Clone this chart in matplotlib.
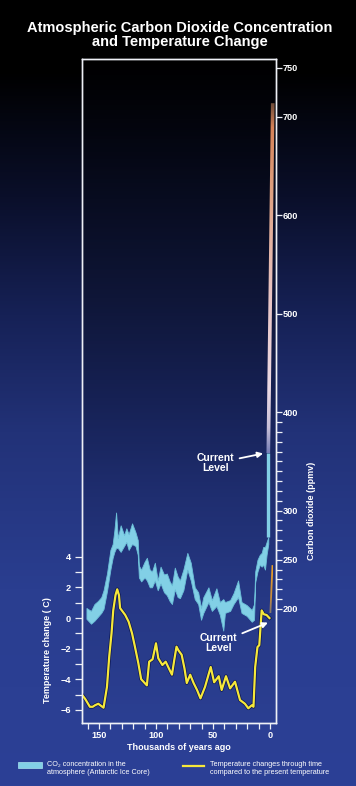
import numpy as np
import matplotlib
matplotlib.use('Agg')
import matplotlib.pyplot as plt
from matplotlib.patches import Rectangle, Polygon
from matplotlib.lines import Line2D

plt.rcParams['font.family'] = ['Liberation Sans', 'DejaVu Sans']

# CO2 band (Vostok ice core), thousands of years ago vs ppmv
co2_kyr = [161, 157, 154, 151, 148, 146, 143, 140, 138, 136.5, 135, 133.5, 131, 128, 126,
           124, 121, 118, 116, 115, 113, 110, 108, 105.5, 103.5, 101, 98.5, 96, 93, 90.5,
           88, 86, 83.5, 81, 79, 76, 72.5, 69.5, 66, 63, 60.5, 58.5, 54, 51, 47, 44, 41,
           39.5, 35, 32, 28, 25, 20.5, 16, 14, 13, 11, 9, 7.3, 6, 4.4, 3, 1.5]
co2_upper = [201, 198, 205, 208, 212, 219, 236, 260, 266, 280, 298, 272, 285, 275, 282,
             276, 287, 278, 270, 244, 240, 248, 252, 240, 238, 247, 229, 243, 235, 236,
             228, 224, 242, 233, 229, 240, 257, 247, 222, 217, 201, 212, 222, 209, 221, 207, 210,
             207, 209, 216, 229, 207, 204, 199, 205, 238, 250, 255, 257, 263, 263, 268, 273]
co2_lower = [190, 185, 188, 192, 196, 200, 218, 240, 252, 258, 262, 262, 258, 264, 268,
             260, 266, 264, 255, 232, 228, 232, 229, 222, 222, 229, 219, 226, 217, 214,
             208, 205, 220, 212, 211, 219, 240, 229, 210, 205, 189, 196, 207, 198, 203, 194, 178,
             196, 198, 205, 212, 196, 193, 187, 189, 227, 238, 245, 243, 245, 240, 255, 266]

# present-day rise and projection
co2_now_kyr = [1.5, 1.5]
co2_now = [273, 358]
co2_proj_kyr = [1.5, -2.4]
co2_proj = [358, 714]

# temperature change relative to present (deg C)
temp_kyr = [165, 162, 158, 155.5, 153.5, 150.6, 148, 146, 143, 141, 139, 137.5, 135.5, 134,
            132.5, 131.5, 127, 124, 121, 118.4, 115.5, 113, 110.5, 108, 106, 103, 100, 98,
            94.4, 91.5, 88, 86, 84, 82, 80.4, 77.5, 75, 73, 70, 67, 64, 61, 57, 52, 49, 45,
            42.4, 38.6, 35, 30.7, 26.3, 22, 19, 16, 14.5, 13, 11, 9.4, 7.3, 5.5, 3, 0.5]
temp = [-5.0, -5.3, -5.8, -5.8, -5.7, -5.6, -5.75, -5.86, -4.5, -2.5, -1.0, 0.5, 1.5, 1.88,
        1.5, 0.65, 0.2, -0.24, -1.0, -1.9, -2.95, -4.0, -4.2, -4.4, -2.85, -2.7, -1.65, -2.63,
        -3.07, -2.85, -3.4, -3.7, -2.75, -1.87, -2.1, -2.4, -3.3, -4.25, -3.7, -4.25, -4.7,
        -5.25, -4.5, -3.2, -4.2, -3.8, -4.7, -3.8, -4.6, -4.16, -5.36, -5.6, -5.9, -5.7,
        -5.8, -3.2, -1.9, -1.77, 0.5, 0.25, 0.2, 0.0]
temp_proj_kyr = [-0.3, -2.2]
temp_proj = [0.3, 3.46]

x_ticks = [150, 100, 50, 0]
temp_ticks = [-6, -4, -2, 0, 2, 4]
co2_ticks = [200, 250, 300, 400, 500, 600, 700, 750]

W, H = 356, 786
fig = plt.figure(figsize=(W / 100, H / 100), dpi=100)


def gradient(stops, n):
    ys = np.linspace(0, 1, n)
    pos = [s[0] for s in stops]
    rgb = np.array([s[1] for s in stops]) / 255.0
    img = np.stack([np.interp(ys, pos, rgb[:, i]) for i in range(3)], axis=-1)
    return img[:, None, :]


def gradient_bar(a, xs, ys, half_w, stops):
    # slanted thin bar filled with a vertical colour gradient
    poly = Polygon([(xs[0] + half_w, ys[0]), (xs[0] - half_w, ys[0]),
                    (xs[1] - half_w, ys[1]), (xs[1] + half_w, ys[1])],
                   closed=True, facecolor='none', edgecolor='none', transform=a.transData)
    a.add_patch(poly)
    im = a.imshow(gradient(stops, 200), origin='lower', aspect='auto', zorder=3,
                  extent=[max(xs) + half_w, min(xs) - half_w, ys[0], ys[1]],
                  interpolation='bilinear')
    im.set_clip_path(poly)


# figure background
bg = fig.add_axes([0, 0, 1, 1], zorder=-10)
bg.axis('off')
bg.imshow(gradient([(0, (0, 0, 0)), (0.09, (0, 0, 0)), (0.25, (10, 15, 42)), (0.4, (22, 33, 86)),
                    (0.55, (34, 50, 120)), (0.75, (42, 62, 144)), (1, (44, 64, 150))], H),
          aspect='auto', extent=[0, 1, 0, 1])

ax = fig.add_axes([82 / W, 1 - 723 / H, 194 / W, 664 / H])
ax.imshow(gradient([(0, (0, 0, 0)), (0.09, (3, 4, 12)), (0.21, (8, 12, 32)), (0.36, (15, 22, 56)),
                    (0.51, (22, 33, 84)), (0.66, (31, 46, 112)), (0.81, (38, 56, 132)),
                    (1, (43, 63, 146))], 300),
          aspect='auto', extent=[0, 1, 0, 1], transform=ax.transAxes, zorder=0)

ax2 = ax.twinx()

# CO2 band
ax2.fill_between(co2_kyr, co2_lower, co2_upper, color='#82d0e6', edgecolor='#6cbfd8',
                 lw=0.6, zorder=3)
ax2.plot(co2_now_kyr, co2_now, color='#82d0e6', lw=2.4, solid_capstyle='butt', zorder=3)

# projection with colour gradient
gradient_bar(ax2, co2_proj_kyr, co2_proj, 1.6,
             [(0, (120, 128, 184)), (0.07, (200, 192, 216)), (0.18, (236, 218, 228)),
              (0.45, (232, 196, 196)), (0.75, (222, 160, 128)), (0.93, (214, 130, 88)),
              (1, (110, 76, 58))])

# temperature
ax.plot(temp_kyr, temp, color='#0a1450', lw=2.6, zorder=4)
ax.plot(temp_kyr, temp, color='#f6e83a', lw=1.6, zorder=5)
gradient_bar(ax, temp_proj_kyr, temp_proj, 0.8,
             [(0, (130, 120, 110)), (0.35, (200, 140, 60)), (1, (236, 160, 40))])

# annotations
tkw = dict(color='white', fontsize=7.5, fontweight='bold', ha='center', va='center',
           linespacing=1.0)
akw = dict(arrowstyle='-|>', color='white', lw=1.3, mutation_scale=8, shrinkA=2, shrinkB=0)
ax2.annotate('Current\nLevel', xy=(6, 358), xytext=(48, 348), arrowprops=akw, zorder=6, **tkw)
ax.annotate('Current\nLevel', xy=(1.8, -0.3), xytext=(45.5, -1.65), arrowprops=akw, zorder=6, **tkw)

# axes, ticks
ax.set_xlim(164.9, -5.26)
ax.set_ylim(-6.86, 36.54)
ax2.set_ylim(84.1, 758.9)
ax.set_xticks(x_ticks)
ax.set_xticks(np.arange(0, 161, 10), minor=True)
ax.set_yticks(temp_ticks)
ax.set_yticks([-5, -3, -1, 1, 3], minor=True)
ax2.set_yticks(co2_ticks)
ax2.set_yticks(np.arange(200, 401, 10), minor=True)

lab_font = dict(fontsize=6.5, fontweight='bold', color='white')
for a in (ax, ax2):
    for s in a.spines.values():
        s.set_color('#eef0f6')
        s.set_linewidth(1.0)
    a.tick_params(which='both', colors='#eef0f6', width=0.9, length=4, direction='out')
ax.tick_params(axis='y', which='both', length=5, pad=3)
ax.tick_params(axis='x', which='both', pad=2)
ax2.tick_params(axis='y', which='both', length=4, pad=1)
for lbl in ax.get_xticklabels() + ax.get_yticklabels() + ax2.get_yticklabels():
    lbl.set_fontsize(6.6)
    lbl.set_fontweight('bold')
    lbl.set_color('white')

# texts
fig.text(0.505, 1 - 35 / H, 'Atmospheric Carbon Dioxide Concentration\nand Temperature Change',
         ha='center', va='center', color='white', fontsize=10.5, fontweight='bold', linespacing=1.05)
fig.text(179 / W, 1 - 748 / H, 'Thousands of years ago', ha='center', va='center', **lab_font)
fig.text(48 / W, 1 - 650 / H, 'Temperature change ( C)', rotation=90, ha='center',
         va='center', **lab_font)
fig.text(311 / W, 1 - 511 / H, 'Carbon dioxide (ppmv)', rotation=90, ha='center',
         va='center', **lab_font)

# legend
fig.add_artist(Rectangle((18 / W, 1 - 768 / H), 24 / W, 6 / H, transform=fig.transFigure,
                         facecolor='#82d0e6', edgecolor='#a8e4f0', lw=0.5))
fig.text(47 / W, 1 - 768.5 / H, 'CO\u2082 concentration in the\natmosphere (Antarctic Ice Core)',
         ha='left', va='center', color='white', fontsize=5.2, linespacing=1.05)
fig.add_artist(Line2D([183 / W, 204 / W], [1 - 766 / H, 1 - 766 / H], transform=fig.transFigure,
                      color='#f6e83a', lw=1.6))
fig.text(210 / W, 1 - 768.5 / H, 'Temperature changes through time\ncompared to the present temperature',
         ha='left', va='center', color='white', fontsize=5.2, linespacing=1.05)

fig.savefig('out.png', dpi=100)
